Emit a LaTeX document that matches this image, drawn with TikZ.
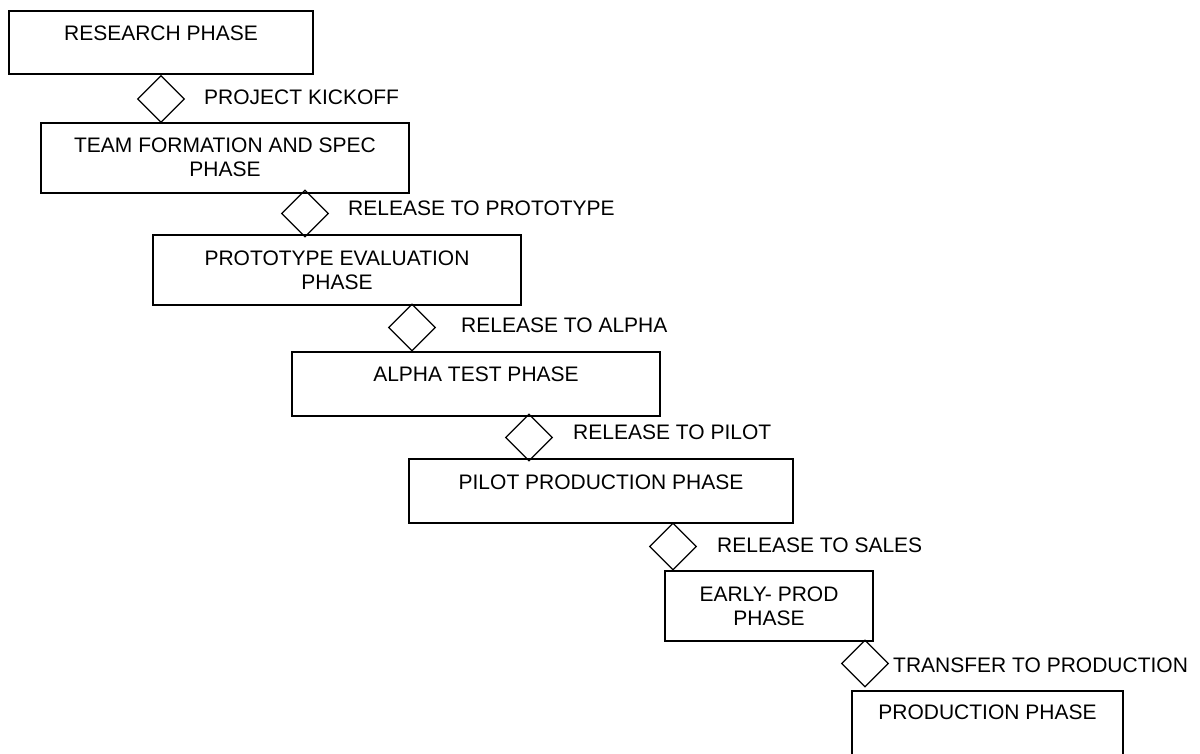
\documentclass[tikz,border=0pt]{standalone}
\usepackage{fontspec}
\setmainfont{Liberation Sans}
\usetikzlibrary{shapes.geometric}
\begin{document}
\begin{tikzpicture}[x=1pt,y=-1pt,
  phasebox/.style={draw, line width=1.6pt, inner sep=0pt},
  gate/.style={draw, diamond, line width=1.3pt, minimum width=47pt, minimum height=47pt, inner sep=0pt},
  boxtext/.style={anchor=north, inner sep=0pt, align=center, font=\fontsize{21}{24}\selectfont},
  gatetext/.style={anchor=west, inner sep=0pt, font=\fontsize{21}{24}\selectfont}]
\useasboundingbox (0,0) rectangle (1200,753);
\clip (0,0) rectangle (1200,753);
\fill[white] (0,0) rectangle (1200,753);

% phase boxes
\node[phasebox, minimum width=304pt, minimum height=63pt] (b1) at (161,42.5) {};
\node[phasebox, minimum width=368pt, minimum height=70pt] (b2) at (225,158) {};
\node[phasebox, minimum width=368pt, minimum height=70pt] (b3) at (337,270) {};
\node[phasebox, minimum width=368pt, minimum height=64pt] (b4) at (476,384) {};
\node[phasebox, minimum width=384pt, minimum height=64pt] (b5) at (601,491) {};
\node[phasebox, minimum width=208pt, minimum height=70pt] (b6) at (769,606) {};
\node[phasebox, minimum width=271pt, minimum height=68pt] (b7) at (987.5,725) {};

% box texts
\node[boxtext] (t1) at ([yshift=-15pt]b1.north) {RESEARCH PHASE};
\node[boxtext] (t2) at ([yshift=-15pt]b2.north) {TEAM FORMATION AND SPEC\\PHASE};
\node[boxtext] (t3) at ([yshift=-16pt]b3.north) {PROTOTYPE EVALUATION\\PHASE};
\node[boxtext] (t4) at ([yshift=-15pt]b4.north) {ALPHA TEST PHASE};
\node[boxtext] (t5) at ([yshift=-16pt]b5.north) {PILOT PRODUCTION PHASE};
\node[boxtext] (t6) at ([yshift=-16pt]b6.north) {EARLY- PROD\\PHASE};
\node[boxtext] (t7) at ([yshift=-14pt]b7.north) {PRODUCTION PHASE};

% milestone diamonds
\node[gate] (d1) at (161,99) {};
\node[gate] (d2) at (305,213.5) {};
\node[gate] (d3) at (412,327.5) {};
\node[gate] (d4) at (529,437.5) {};
\node[gate] (d5) at (673,546.5) {};
\node[gate] (d6) at (865,663.5) {};

% milestone labels
\node[gatetext] (l1) at (204,97) {PROJECT KICKOFF};
\node[gatetext] (l2) at (348,208.5) {RELEASE TO PROTOTYPE};
\node[gatetext] (l3) at (461,325.5) {RELEASE TO ALPHA};
\node[gatetext] (l4) at (573,432.5) {RELEASE TO PILOT};
\node[gatetext] (l5) at (717,545) {RELEASE TO SALES};
\node[gatetext] (l6) at (893,665.5) {TRANSFER TO PRODUCTION};
\end{tikzpicture}
\end{document}
